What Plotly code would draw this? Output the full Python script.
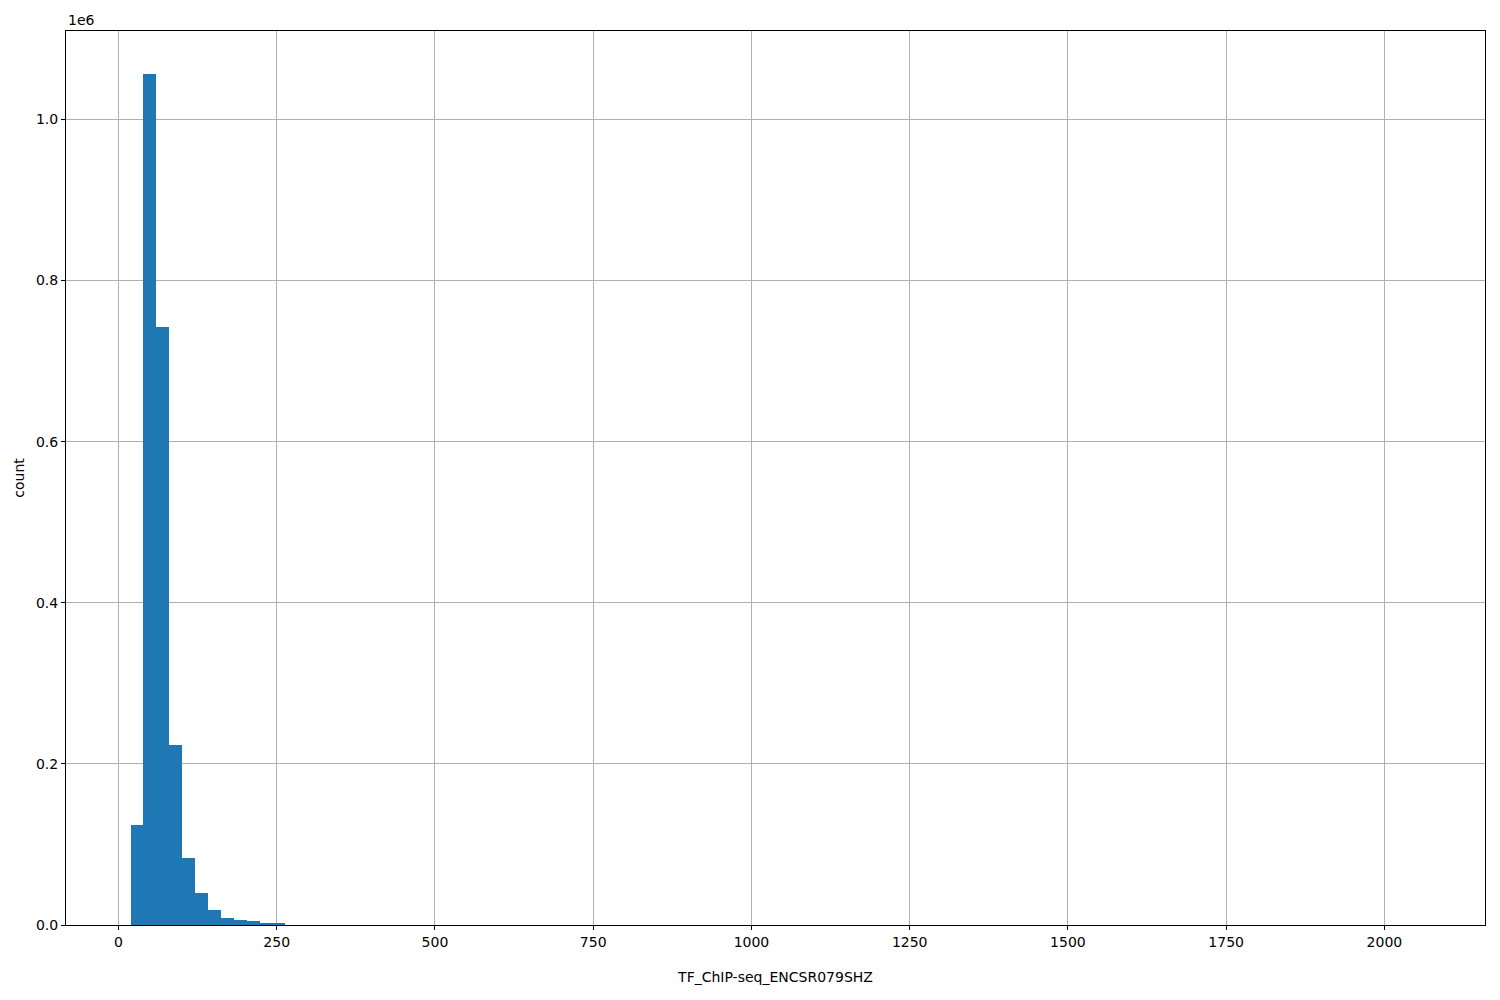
import plotly.graph_objects as go

# Histogram bin settings
bin_start = 19.0
bin_width = 20.38
# Counts per bin (100 bins); bins beyond ~285 are invisible at this scale
counts = [124000, 1057000, 743000, 223000, 83000, 40000, 18600, 8700, 6200, 5000,
          2700, 1500] + [0] * 88
x_ticks = [0, 250, 500, 750, 1000, 1250, 1500, 1750, 2000]
y_ticks = [0, 200000, 400000, 600000, 800000, 1000000]
y_tick_labels = ["0.0", "0.2", "0.4", "0.6", "0.8", "1.0"]
x_title = "TF_ChIP-seq_ENCSR079SHZ"
y_title = "count"

centers = [bin_start + bin_width * (i + 0.5) for i in range(len(counts))]
data_min = bin_start
data_max = bin_start + bin_width * len(counts)
span = data_max - data_min

fig = go.Figure(go.Bar(x=centers, y=counts, width=bin_width,
                       marker=dict(color="#1f77b4", line=dict(width=0))))

font = dict(family="DejaVu Sans", size=14, color="black")
fig.update_layout(
    width=1500, height=1000,
    margin=dict(l=58, r=23, t=23, b=83),
    paper_bgcolor="white", plot_bgcolor="white",
    bargap=0, showlegend=False, font=font,
)
fig.update_xaxes(
    range=[data_min - 0.05 * span, data_max + 0.05 * span],
    tickvals=x_ticks, ticktext=[str(v) for v in x_ticks],
    showgrid=True, gridcolor="#b0b0b0", gridwidth=0.8,
    showline=True, linecolor="black", linewidth=1, mirror=True,
    ticks="outside", ticklen=4, tickcolor="black", zeroline=False,
    automargin=False,
    title=dict(text=x_title, font=font, standoff=23),
)
fig.update_yaxes(
    range=[0, max(counts) * 1.05],
    tickvals=y_ticks, ticktext=y_tick_labels,
    showgrid=True, gridcolor="#b0b0b0", gridwidth=0.8,
    showline=True, linecolor="black", linewidth=1, mirror=True,
    ticks="outside", ticklen=4, tickcolor="black", zeroline=False,
    automargin=False,
    title=dict(text=y_title, font=font, standoff=8),
)
fig.add_annotation(text="1e6", xref="paper", yref="paper", x=0, y=1,
                   xanchor="left", yanchor="bottom", showarrow=False,
                   font=font, yshift=1)
fig.write_html("out.html")
